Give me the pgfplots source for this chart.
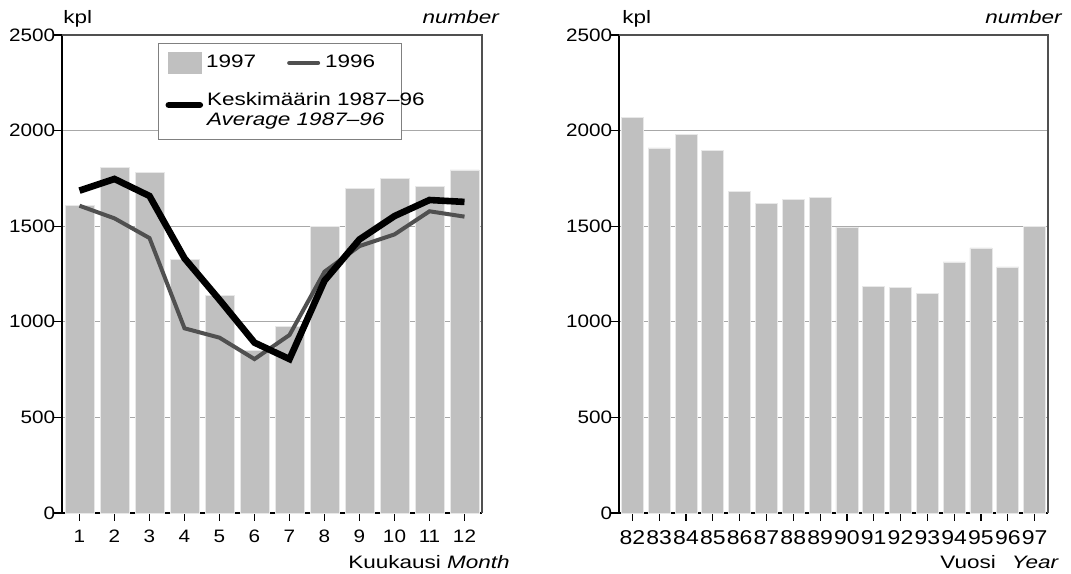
\documentclass[border=0pt]{standalone}
\usepackage{pgfplots}
\pgfplotsset{compat=1.18}
\usepackage{fontspec}
\setmainfont{Liberation Sans}[FakeStretch=1.25, ItalicFeatures={FakeStretch=1.25}]
\newfontfamily\tickfont{Liberation Sans}[FakeStretch=1.15]
\definecolor{barfill}{HTML}{C0C0C0}
\definecolor{baredge}{HTML}{E8E8E8}
\definecolor{line96}{HTML}{505050}
\definecolor{gridc}{HTML}{A8A8A8}
\definecolor{framec}{HTML}{505050}
\definecolor{legc}{HTML}{808080}
\pgfplotsset{
  base/.style={
    scale only axis, height=239pt, ymin=0, ymax=2500, ytick={0,500,...,2500},
    axis lines*=left, axis line style={black, line width=0.8pt},
    tick style={black, line width=0.6pt}, tick align=outside, major tick length=4pt,
    ymajorgrids, major grid style={gridc, line width=0.6pt},
    font=\fontsize{9}{10}\selectfont,
    /pgf/number format/assume math mode=true,
    /pgf/number format/1000 sep={},
    yticklabel style={anchor=east, inner sep=0pt, xshift=0.75pt, font=\tickfont\fontsize{9}{10}\selectfont},
    xticklabel style={anchor=north, inner sep=0pt, yshift=-4.5pt, font=\tickfont\fontsize{9}{10}\selectfont},
    clip=false,
  }
}
\begin{document}
\begin{tikzpicture}
\begin{axis}[base, at={(31pt,30pt)}, anchor=south west, width=210pt,
  xmin=0.5, xmax=12.5, xtick={1,...,12},
  legend columns=2, legend cell align=left,
  legend style={at={(axis description cs:0.2286,0.9833)}, anchor=north west,
    draw=legc, line width=0.5pt, fill=white, inner xsep=3.5pt, inner ysep=4.25pt,
    row sep=8.75pt, nodes={inner sep=0pt},
    /tikz/every odd column/.style={column sep=1.5pt},
    /tikz/every even column/.style={column sep=15.5pt},
    font=\fontsize{9}{10}\selectfont}]
\addplot[ybar, bar width=14.5pt, fill=barfill, draw=baredge, line width=0.4pt,
  legend image code/.code={\fill[barfill] (0pt,-5.25pt) rectangle (16.5pt,5.25pt);}]
  coordinates {(1,1610) (2,1805) (3,1782) (4,1325) (5,1140) (6,850) (7,978) (8,1497) (9,1696) (10,1748) (11,1709) (12,1794)};
\addlegendentry{1997}
\addplot[line96, line width=2pt,
  legend image code/.code={\draw[line96, line width=2pt, line cap=round] (0pt,0pt) -- (14.5pt,0pt); \path[draw=none, fill=none] (0pt,0pt) rectangle (16.5pt,0.1pt);}]
  coordinates {(1,1607) (2,1541) (3,1438) (4,966) (5,917) (6,805) (7,931) (8,1262) (9,1396) (10,1457) (11,1578) (12,1550)};
\addlegendentry{\makebox[34.5pt][l]{1996}}
\addplot[black, line width=3.3pt,
  legend image code/.code={\draw[black, line width=3.3pt, line cap=round] (0pt,0pt) -- (15.5pt,0pt); \path[draw=none, fill=none] (0pt,-12.75pt) rectangle (0.1pt,0pt);}]
  coordinates {(1,1686) (2,1747) (3,1658) (4,1332) (5,1115) (6,891) (7,805) (8,1215) (9,1431) (10,1553) (11,1637) (12,1627)};
\addlegendentry{\makebox[0pt][l]{\begin{tabular}{@{}l@{}}Keskimäärin 1987--96\\\textit{Average 1987--96}\end{tabular}}}
\draw[framec, line width=0.6pt] (rel axis cs:0,1) -- (rel axis cs:1,1) -- (rel axis cs:1,0);
\node[anchor=base west, inner sep=0pt, xshift=0.5pt, yshift=5.5pt] at (rel axis cs:0,1) {kpl};
\node[anchor=base east, inner sep=0pt, xshift=9pt, yshift=5.5pt] at (rel axis cs:1,1) {\textit{number}};
\node[anchor=base east, inner sep=0pt, xshift=14pt, yshift=-27.5pt] at (rel axis cs:1,0) {Kuukausi \textit{Month}};
\end{axis}
\begin{axis}[base, at={(309.5pt,30pt)}, anchor=south west, width=214.5pt,
  xmin=81.5, xmax=97.5, xtick={82,...,97},
  xticklabel style={font=\tickfont\fontsize{10}{12}\selectfont}]
\addplot[ybar, bar width=11pt, fill=barfill, draw=baredge, line width=0.4pt]
  coordinates {(82,2068) (83,1909) (84,1979) (85,1897) (86,1684) (87,1620) (88,1642) (89,1649) (90,1496) (91,1187) (92,1180) (93,1147) (94,1313) (95,1386) (96,1287) (97,1500)};
\draw[framec, line width=0.6pt] (rel axis cs:0,1) -- (rel axis cs:1,1) -- (rel axis cs:1,0);
\node[anchor=base west, inner sep=0pt, xshift=1.5pt, yshift=5.5pt] at (rel axis cs:0,1) {kpl};
\node[anchor=base west, inner sep=0pt, xshift=183pt, yshift=5.5pt] at (rel axis cs:0,1) {\textit{number}};
\node[anchor=base west, inner sep=0pt, xshift=160.5pt, yshift=-27.5pt] at (rel axis cs:0,0) {Vuosi\hspace{8pt}\textit{Year}};
\end{axis}
\pgfresetboundingbox
\path (0pt,0pt) rectangle (535.5pt,286.5pt);
\end{tikzpicture}
\end{document}
